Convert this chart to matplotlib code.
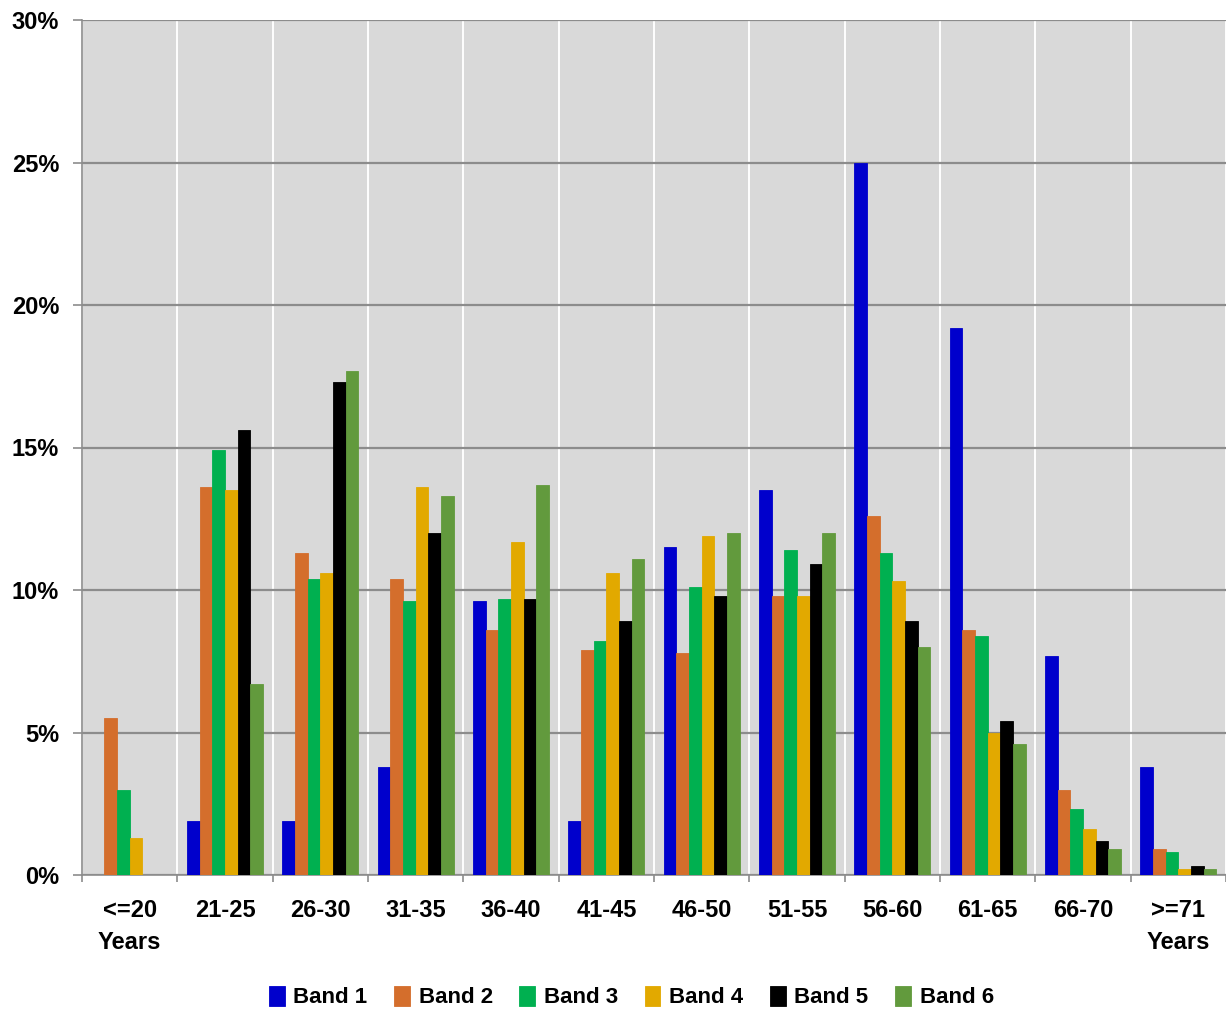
import numpy as np
import matplotlib.pyplot as plt
from matplotlib.ticker import FixedLocator, PercentFormatter

plt.rcParams['font.family'] = ['Liberation Sans', 'DejaVu Sans']
plt.rcParams['font.weight'] = 'bold'

# age bands on the x axis
age_groups = ['<=20\nYears', '21-25', '26-30', '31-35', '36-40', '41-45',
              '46-50', '51-55', '56-60', '61-65', '66-70', '>=71\nYears']

# share of staff per age band (%)
band1 = [0.0, 1.9, 1.9, 3.8, 9.6, 1.9, 11.5, 13.5, 25.0, 19.2, 7.7, 3.8]
band2 = [5.5, 13.6, 11.3, 10.4, 8.6, 7.9, 7.8, 9.8, 12.6, 8.6, 3.0, 0.9]
band3 = [3.0, 14.9, 10.4, 9.6, 9.7, 8.2, 10.1, 11.4, 11.3, 8.4, 2.3, 0.8]
band4 = [1.3, 13.5, 10.6, 13.6, 11.7, 10.6, 11.9, 9.8, 10.3, 5.0, 1.6, 0.2]
band5 = [0.0, 15.6, 17.3, 12.0, 9.7, 8.9, 9.8, 10.9, 8.9, 5.4, 1.2, 0.3]
band6 = [0.0, 6.7, 17.7, 13.3, 13.7, 11.1, 12.0, 12.0, 8.0, 4.6, 0.9, 0.2]

series = [('Band 1', band1, '#0000CC'),
          ('Band 2', band2, '#D46E2C'),
          ('Band 3', band3, '#00B050'),
          ('Band 4', band4, '#E2A900'),
          ('Band 5', band5, '#000000'),
          ('Band 6', band6, '#629A3D')]

fig = plt.figure(figsize=(12.26, 10.09), dpi=100)
ax = fig.add_axes([82 / 1226, 1 - 875 / 1009, 1144 / 1226, 855 / 1009])
ax.set_facecolor('#D9D9D9')

x = np.arange(len(age_groups))
width = 0.8 / len(series)
for i, (name, vals, col) in enumerate(series):
    offs = (i - (len(series) - 1) / 2) * width
    ax.bar(x + offs, vals, width, color=col, label=name,
           edgecolor=col, linewidth=0.6, zorder=3)

ax.set_xlim(-0.5, len(age_groups) - 0.5)
ax.set_ylim(0, 30)
ax.yaxis.set_major_locator(FixedLocator(np.arange(0, 31, 5)))
ax.yaxis.set_major_formatter(PercentFormatter(decimals=0))

ax.set_xticks(x)
ax.set_xticklabels(age_groups, fontsize=17, fontweight='bold',
                   linespacing=1.5)
ax.xaxis.set_minor_locator(FixedLocator(np.arange(-0.5, len(age_groups), 1)))
ax.tick_params(axis='x', which='major', length=0, pad=17)
ax.tick_params(axis='x', which='minor', length=5, color='#8C8C8C', width=1.2)
ax.tick_params(axis='y', length=6.5, color='#8C8C8C', width=1.2, pad=10,
               labelsize=17)
for lab in ax.get_yticklabels():
    lab.set_fontweight('bold')

ax.grid(axis='y', which='major', color='#8C8C8C', linewidth=1.6, zorder=1)
ax.grid(axis='x', which='minor', color='white', linewidth=1.4, zorder=1)
ax.set_axisbelow(True)

for side in ['top', 'right']:
    ax.spines[side].set_visible(False)
for side in ['left', 'bottom']:
    ax.spines[side].set_color('#8C8C8C')
    ax.spines[side].set_linewidth(1.2)

fig.legend(loc='center', bbox_to_anchor=(0.515, 1 - 997 / 1009), ncol=6,
           frameon=False, handlelength=0.7, handleheight=1.0,
           handletextpad=0.4, columnspacing=1.2,
           prop={'weight': 'bold', 'size': 16})

fig.savefig('out.png', dpi=100)
